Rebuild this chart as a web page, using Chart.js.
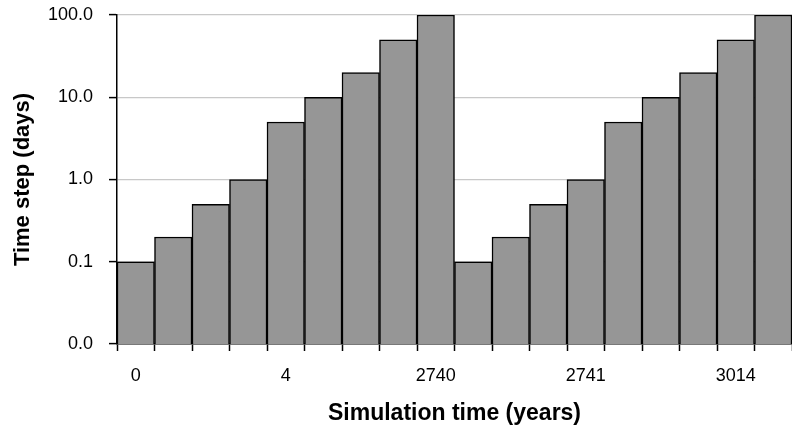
<!DOCTYPE html>
<html>
<head>
<meta charset="utf-8">
<script src="https://cdn.jsdelivr.net/npm/chart.js@4"></script>
<style>
  body { margin: 0; background: #fff; }
  #grafik { display: block; }
</style>
</head>
<body>
<canvas id="grafik" width="792" height="430"></canvas>
<script>
// simulation time labels (only every 4th step is labelled)
var zamanEtiket = ['0','','','','4','','','','2740','','','','2741','','','','3014',''];
// time step per bar, days
var adimGun = [0.1,0.2,0.5,1,5,10,20,50,100,0.1,0.2,0.5,1,5,10,20,50,100];
var yTikler = [0.01,0.1,1,10,100];

var yazi = 'Liberation Sans, Arial, sans-serif';

new Chart(document.getElementById('grafik'), {
  type: 'bar',
  data: {
    labels: zamanEtiket,
    datasets: [{
      data: adimGun,
      backgroundColor: '#969696',
      borderColor: '#000',
      borderWidth: 1.5,
      barPercentage: 1,
      categoryPercentage: 1
    }]
  },
  options: {
    responsive: false,
    animation: false,
    layout: { padding: { top: 15, left: 0, right: 0, bottom: 0 } },
    plugins: { legend: { display: false }, tooltip: { enabled: false } },
    scales: {
      x: {
        grid: { offset: true, drawOnChartArea: false, tickColor: '#000', tickLength: 7, tickWidth: 1.5 },
        border: { display: true, color: '#000', width: 1.5 },
        ticks: { autoSkip: false, maxRotation: 0, color: '#000', padding: 14, font: { family: yazi, size: 18 } },
        title: { display: true, text: 'Simulation time (years)', color: '#000', padding: { top: 0, bottom: 3 }, font: { family: yazi, size: 23, weight: 'bold' } },
        afterFit: function(s) { s.height = 86; s.paddingLeft = 0; s.paddingRight = 0; }
      },
      y: {
        type: 'logarithmic',
        min: 0.01,
        max: 100,
        grid: { color: '#c8c8c8', lineWidth: 1.2, tickColor: '#000', tickLength: 8, tickWidth: 1.5 },
        border: { display: true, color: '#000', width: 1.5 },
        afterBuildTicks: function(s) { s.ticks = yTikler.map(function(v){ return { value: v }; }); },
        ticks: {
          color: '#000', padding: 16, font: { family: yazi, size: 18 },
          callback: function(v) { return Number(v).toFixed(1); }
        },
        title: { display: true, text: 'Time step (days)', color: '#000', padding: { top: 10, bottom: 0 }, font: { family: yazi, size: 22, weight: 'bold' } },
        afterFit: function(s) { s.width = 117; s.paddingTop = 0; s.paddingBottom = 0; }
      }
    }
  }
});
</script>
</body>
</html>
